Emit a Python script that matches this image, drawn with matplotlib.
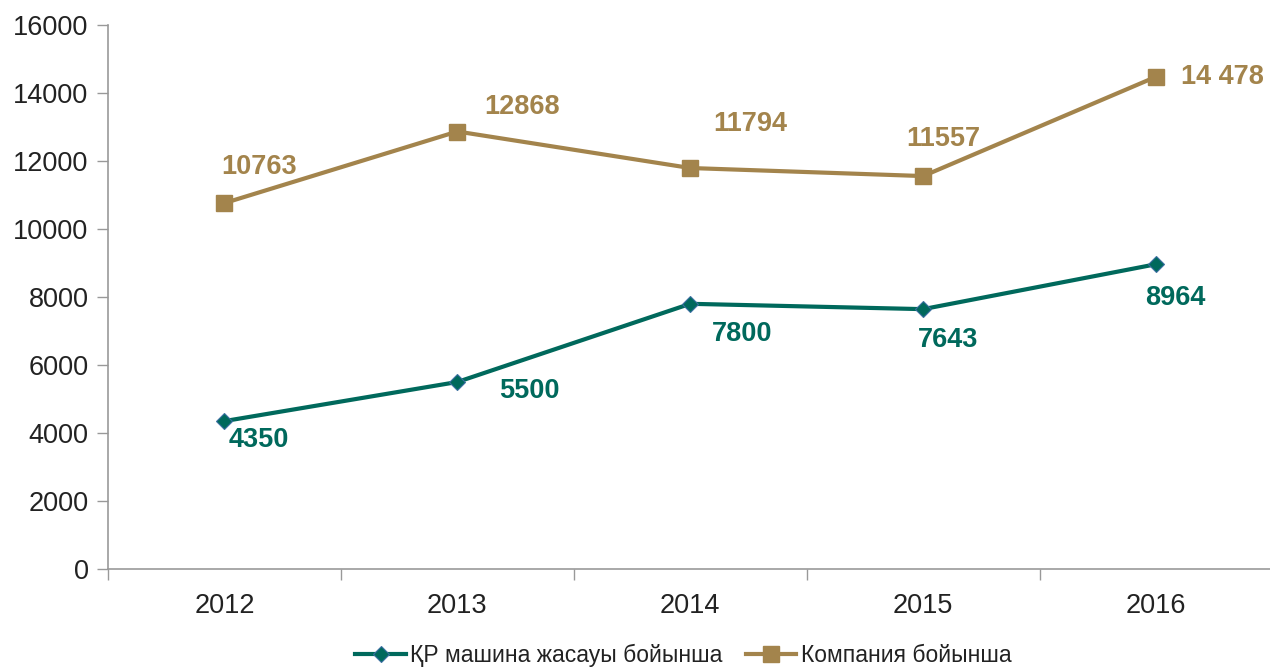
import matplotlib.pyplot as plt

years = ['2012', '2013', '2014', '2015', '2016']
kz_values = [4350, 5500, 7800, 7643, 8964]
company_values = [10763, 12868, 11794, 11557, 14478]
kz_labels = ['4350', '5500', '7800', '7643', '8964']
company_labels = ['10763', '12868', '11794', '11557', '14 478']

teal = '#00695c'
gold = '#a3844c'

plt.rcParams['font.family'] = ['Liberation Sans', 'DejaVu Sans']

fig = plt.figure(figsize=(12.7, 6.69), dpi=100)
ax = fig.add_axes([0.085, 0.1495, 0.917, 0.8131])

x = list(range(len(years)))
ax.plot(x, kz_values, color=teal, lw=3, marker='D', ms=8,
        markeredgecolor='#3a6fa0', markeredgewidth=0.8,
        label='ҚР машина жасауы бойынша')
ax.plot(x, company_values, color=gold, lw=3, marker='s', ms=11,
        markeredgecolor=gold, label='Компания бойынша')

# label offsets in pixels (left edge of text relative to point)
company_off = [(-3, 36), (27, 25), (23, 44), (-17, 37), (25, 0)]
kz_off = [(4, -19), (42, -9), (22, -30), (-5, -31), (-11, -34)]

for i in x:
    ax.annotate(company_labels[i], (i, company_values[i]), xytext=company_off[i],
                textcoords='offset pixels', color=gold, fontsize=19.5, fontweight='bold',
                ha='left', va='center')
    ax.annotate(kz_labels[i], (i, kz_values[i]), xytext=kz_off[i],
                textcoords='offset pixels', color=teal, fontsize=19.5, fontweight='bold',
                ha='left', va='center')

ax.set_xlim(-0.5, 4.5)
ax.set_ylim(0, 16000)
ax.set_yticks(range(0, 16001, 2000))
ax.set_xticks(x)
ax.set_xticklabels(years)
ax.set_xticks([i - 0.5 for i in range(6)], minor=True)
ax.tick_params(axis='x', which='major', length=0, pad=17, labelsize=19.5, labelcolor='#222222')
ax.tick_params(axis='x', which='minor', length=8, color='#999999', width=1)
ax.tick_params(axis='y', length=8, color='#999999', width=1, labelsize=19.5,
               labelcolor='#222222', pad=6)

for side in ['top', 'right']:
    ax.spines[side].set_visible(False)
for side in ['left', 'bottom']:
    ax.spines[side].set_color('#999999')
    ax.spines[side].set_linewidth(1.2)

fig.legend(loc='center', bbox_to_anchor=(0.538, 0.02), ncol=2, frameon=False,
           prop={'family': 'Liberation Sans', 'size': 16.5},
           handlelength=2.2, columnspacing=1.0, handletextpad=0.2,
           labelcolor='#222222')

fig.savefig('out.png', dpi=100)
